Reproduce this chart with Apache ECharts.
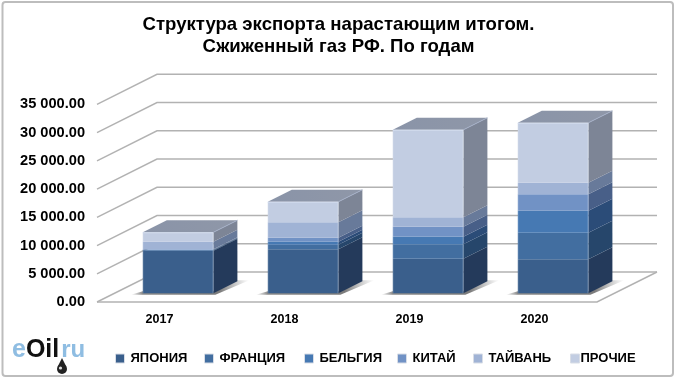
<!DOCTYPE html>
<html>
<head>
<meta charset="utf-8">
<style>html,body{margin:0;padding:0;background:#fff}#container{width:680px;height:384px}</style>
<script src="https://cdn.jsdelivr.net/npm/echarts@6/dist/echarts.min.js"></script>
</head>
<body>
<div id="container"></div>
<script>
var years = ['2017', '2018', '2019', '2020'];
var ticks = [0, 5000, 10000, 15000, 20000, 25000, 30000, 35000];
var names = ['ЯПОНИЯ', 'ФРАНЦИЯ', 'БЕЛЬГИЯ', 'КИТАЙ', 'ТАЙВАНЬ', 'ПРОЧИЕ'];

var japan = [7540, 7790, 6120, 6020];
var france = [130, 800, 2550, 4700];
var belgium = [60, 540, 1350, 3900];
var china = [60, 710, 1770, 2900];
var taiwan = [1340, 2730, 1660, 2050];
var other = [1670, 3640, 15500, 10620];

var values = [japan, france, belgium, china, taiwan, other];
var frontColors = ['#3a5f8c', '#426ea0', '#4679b3', '#7192c5', '#a0b3d5', '#c2cde2'];
var sideColors = ['#243a5b', '#26466b', '#2b4c78', '#485f88', '#687a9a', '#7d8596'];
var legendLeft = [115, 204, 304, 397, 473, 570];

var dom = document.getElementById('container');
var myChart = echarts.init(dom);

var DEPTH_X = 60, DEPTH_Y = -30;
var BAR_W = 70.6;
var FRONT_X = 18.6, FRONT_Y = -8.7, SIDE_X = 24, SIDE_Y = -12;

function poly(points, fill, z2) {
    return { type: 'polygon', z2: z2 || 0, shape: { points: points }, style: { fill: fill } };
}

function line(x1, y1, x2, y2, color, width) {
    return { type: 'line', shape: { x1: x1, y1: y1, x2: x2, y2: y2 }, style: { stroke: color, lineWidth: width } };
}

function renderWall(params, api) {
    var c = params.coordSys;
    var p = api.coord([0, api.value(1)]);
    var y = p[1];
    var children = [
        { type: 'polyline', shape: { points: [[c.x, y], [c.x + DEPTH_X, y + DEPTH_Y], [c.x + c.width + DEPTH_X, y + DEPTH_Y]] },
          style: { fill: 'none', stroke: '#b2b2b2', lineWidth: 1.4 } }
    ];
    if (api.value(1) === 0) {
        children.push({ type: 'polyline', shape: { points: [[c.x, y], [c.x + c.width, y], [c.x + c.width + DEPTH_X, y + DEPTH_Y]] },
            style: { fill: 'none', stroke: '#b2b2b2', lineWidth: 1.4 } });
    }
    return { type: 'group', children: children };
}

function renderShadow(params, api) {
    var p = api.coord([api.value(0), 0]);
    var x0 = p[0] - BAR_W / 2 + FRONT_X;
    var x1 = x0 + BAR_W;
    var y = p[1] + FRONT_Y;
    return {
        type: 'group',
        children: [
            poly([[x0 - 12, y + 1.5], [x1 + 2, y + 1.5], [x1 + SIDE_X + 12, y + SIDE_Y - 1], [x1 + SIDE_X, y + SIDE_Y - 1], [x1, y - 2], [x0, y - 2]],
                new echarts.graphic.LinearGradient(0, 0, 1, 0, [
                    { offset: 0, color: 'rgba(120,120,120,0)' },
                    { offset: 0.1, color: 'rgba(110,110,110,0.8)' },
                    { offset: 0.75, color: 'rgba(90,90,90,0.8)' },
                    { offset: 1, color: 'rgba(130,130,130,0)' }
                ]))
        ]
    };
}

function makeRender(s) {
    return function (params, api) {
        var lo = api.coord([api.value(0), api.value(1)]);
        var hi = api.coord([api.value(0), api.value(2)]);
        var x0 = lo[0] - BAR_W / 2 + FRONT_X;
        var x1 = x0 + BAR_W;
        var yb = lo[1] + FRONT_Y;
        var yt = hi[1] + FRONT_Y;
        var children = [
            poly([[x1, yb], [x1 + SIDE_X, yb + SIDE_Y], [x1 + SIDE_X, yt + SIDE_Y], [x1, yt]], sideColors[s]),
            { type: 'rect', shape: { x: x0, y: yt, width: BAR_W, height: yb - yt }, style: { fill: frontColors[s] } },
            line(x0 + 0.5, yb, x0 + 0.5, yt, 'rgba(255,255,255,0.12)', 1),
            line(x1 - 0.5, yb, x1 - 0.5, yt, 'rgba(255,255,255,0.2)', 1)
        ];
        if (s === names.length - 1) {
            children.push(poly([[x0, yt], [x1, yt], [x1 + SIDE_X, yt + SIDE_Y], [x0 + SIDE_X, yt + SIDE_Y]],
                new echarts.graphic.LinearGradient(0, 0, 1, 0, [
                    { offset: 0, color: '#8a94a8' },
                    { offset: 1, color: '#8f97a8' }
                ])));
            children.push(line(x0, yt + 0.5, x1, yt + 0.5, '#d3dcee', 1));
            children.push(line(x1, yt, x1 + SIDE_X, yt + SIDE_Y, '#a4afc6', 1));
        }
        return { type: 'group', children: children };
    };
}

var series = [
    {
        type: 'custom', name: 'wall', silent: true, z: 1,
        encode: { x: 0, y: 1 },
        data: ticks.map(function (v) { return [0, v]; }),
        renderItem: renderWall
    },
    {
        type: 'custom', name: 'shadow', silent: true, z: 2,
        encode: { x: 0, y: 1 },
        data: years.map(function (y, i) { return [i, 0]; }),
        renderItem: renderShadow
    }
];

var totals = [0, 0, 0, 0];
names.forEach(function (name, s) {
    series.push({
        type: 'custom', name: name, silent: true, z: 3,
        itemStyle: { color: frontColors[s] },
        encode: { x: 0, y: [1, 2] },
        data: values[s].map(function (v, i) {
            var row = [i, totals[i], totals[i] + v];
            totals[i] += v;
            return row;
        }),
        renderItem: makeRender(s)
    });
});

var option = {
    backgroundColor: '#fff',
    animation: false,
    textStyle: { fontFamily: '"Liberation Sans", Arial, sans-serif' },
    grid: { left: 97, right: 83, top: 104.3, bottom: 82, containLabel: false },
    xAxis: {
        type: 'category',
        data: years,
        axisLine: { show: false },
        axisTick: { show: false },
        axisLabel: { margin: 11, color: '#000', fontWeight: 'bold', fontSize: 12.5, fontFamily: '"Liberation Sans"' }
    },
    yAxis: {
        type: 'value',
        min: 0,
        max: 35000,
        interval: 5000,
        axisLine: { show: false },
        axisTick: { show: false },
        splitLine: { show: false },
        axisLabel: {
            margin: 12, color: '#000', fontWeight: 'bold', fontSize: 14.6, fontFamily: '"Liberation Sans"',
            padding: [4, 0, 0, 0],
            formatter: function (v) {
                var s = v.toFixed(2);
                return s.replace(/\B(?=(\d{3})+(?=\.))/g, ' ');
            }
        }
    },
    legend: names.map(function (name, i) {
        return {
            left: legendLeft[i],
            top: 352,
            padding: 0,
            itemWidth: 9,
            itemHeight: 9,
            selectedMode: false,
            textStyle: { color: '#000', fontWeight: 'bold', fontSize: 13, fontFamily: '"Liberation Sans"', padding: [0, 0, 0, i === 5 ? -4 : 1] },
            data: [{ name: name, icon: 'rect', itemStyle: { color: frontColors[i], borderColor: '#d8dde6', borderWidth: 1 } }]
        };
    }),
    graphic: [
        { type: 'rect', silent: true, shape: { x: 2.5, y: 2, width: 670.5, height: 374, r: 3 }, style: { fill: 'none', stroke: '#bdbdbd', lineWidth: 2 } },
        { type: 'text', silent: true, x: 338.5, y: 14, style: { text: 'Структура экспорта нарастающим итогом.\nСжиженный газ РФ. По годам', fill: '#000', align: 'center', font: 'bold 18.6px "Liberation Sans"', lineHeight: 22 } },
        { type: 'text', silent: true, x: 12, y: 338, style: {
            text: '{a|e}{b|Oil}{c|ru}',
            rich: {
                a: { fill: '#8fbde2', font: 'bold 25px "Liberation Sans"' },
                b: { fill: '#111', font: 'bold 25px "Liberation Sans"' },
                c: { fill: '#8fbde2', font: 'bold 24px "Liberation Sans"', padding: [0, 0, 0, 2] }
            }
        } },
        { type: 'polygon', silent: true, shape: { points: [[62, 358], [66.5, 367], [57.5, 367]] }, style: { fill: '#222' } },
        { type: 'circle', silent: true, shape: { cx: 62, cy: 369, r: 5 }, style: { fill: '#222' } },
        { type: 'circle', silent: true, shape: { cx: 60.5, cy: 368, r: 1.6 }, style: { fill: '#ddd' } }
    ],
    series: series
};
myChart.setOption(option);
</script>
</body>
</html>
